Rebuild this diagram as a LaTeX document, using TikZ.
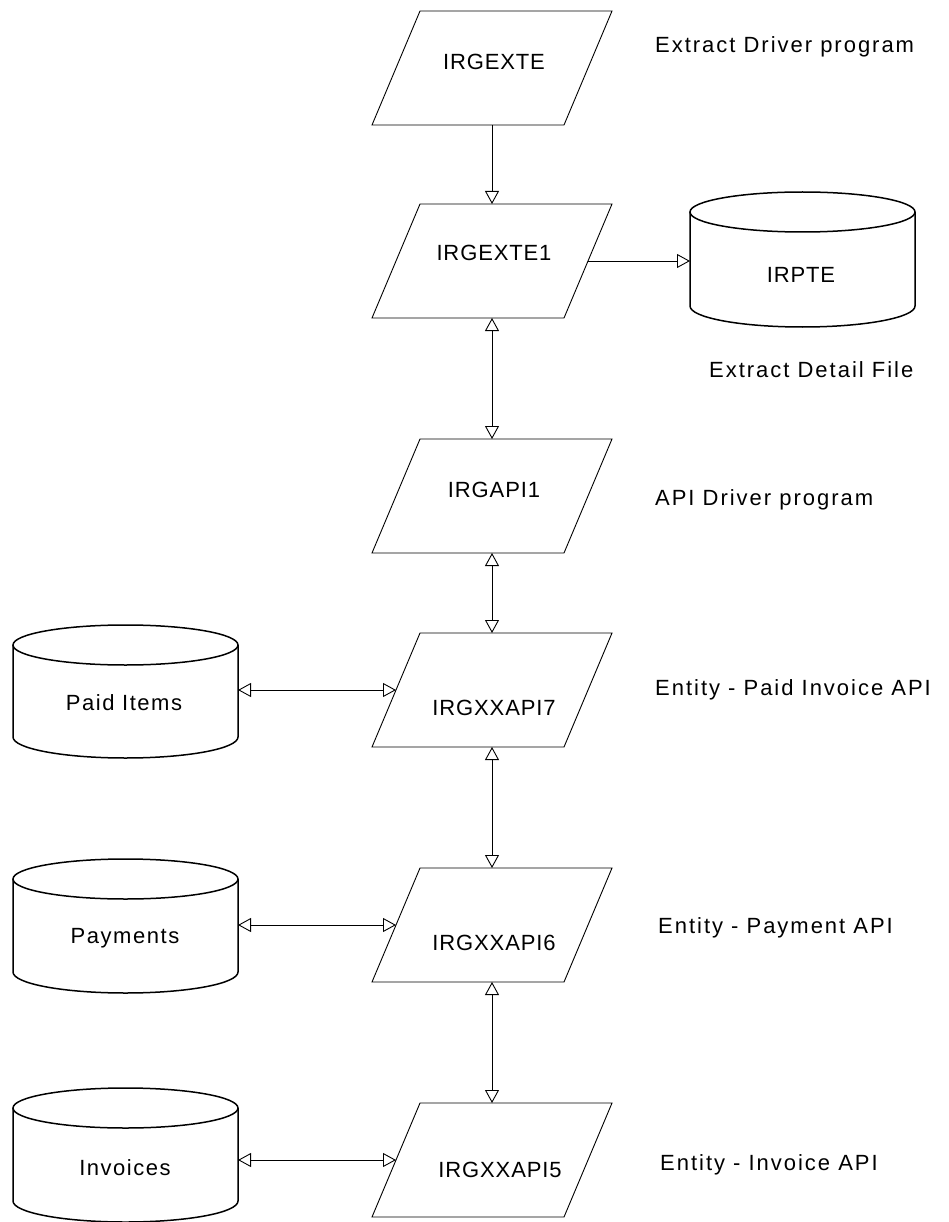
\documentclass[tikz,border=0pt]{standalone}
\usepackage{fontspec}
\setmainfont{Liberation Sans}[LetterSpace=4]
\newfontfamily\notefont{Liberation Sans}[LetterSpace=9]
\newfontfamily\dbfont{Liberation Sans}[LetterSpace=7]
\usetikzlibrary{arrows.meta,calc}
\newcommand\paragram[1]{%
  \draw[outline] (#1.south west) -- ($(#1.south west)+(192,0)$)
    -- coordinate[pos=0.5] (#1-e) (#1.north east)
    -- ($(#1.north east)+(-192,0)$)
    -- coordinate[pos=0.5] (#1-w) (#1.south west) -- cycle;}
\newcommand\dbdraw[1]{%
  \draw[dbline] ($(#1.north)+(0,20)$) ellipse [x radius=112.5, y radius=20];
  \draw[dbline] ($(#1.north west)+(0,20)$) -- ($(#1.south west)+(0,-21)$)
    arc [start angle=180, end angle=0, x radius=112.5, y radius=21]
    -- ($(#1.north east)+(0,20)$);}
\begin{document}
\begin{tikzpicture}[x=1pt,y=-1pt,
  box/.style={minimum width=240pt,minimum height=114pt,inner sep=0pt,outer sep=0pt},
  db/.style={minimum width=225pt,minimum height=134pt,inner sep=0pt,outer sep=0pt},
  lbl/.style={font=\fontsize{22}{26}\selectfont,inner sep=0pt},
  dblbl/.style={font=\fontsize{22}{26}\selectfont\dbfont,inner sep=0pt},
  note/.style={font=\fontsize{22}{26}\selectfont\notefont,inner sep=0pt,anchor=west},
  outline/.style={draw=black,line width=0.9pt,line join=miter},
  dbline/.style={draw=black,line width=1.5pt},
  conn/.style={draw=black,line width=0.9pt},
  tipend/.style={-{Triangle[open,length=13pt,width=14pt,line width=0.9pt]}},
  tipboth/.style={{Triangle[open,length=13pt,width=14pt,line width=0.9pt]}-{Triangle[open,length=13pt,width=14pt,line width=0.9pt]}},
]
\useasboundingbox (0,0) rectangle (949,1222);
\fill[white] (0,0) rectangle (949,1222);

% process boxes (parallelograms)
\node[box] (p0) at (492,68) {};
\node[box] (p1) at (492,261) {};
\node[box] (p2) at (492,496) {};
\node[box] (p7) at (492,690) {};
\node[box] (p6) at (492,925) {};
\node[box] (p5) at (492,1160) {};
\paragram{p0}\paragram{p1}\paragram{p2}\paragram{p7}\paragram{p6}\paragram{p5}
\node[lbl] (t0) at (494,62) {IRGEXTE};
\node[lbl] (t1) at (494,253) {IRGEXTE1};
\node[lbl] (t2) at (494,490) {IRGAPI1};
\node[lbl] (t7) at (494,708) {IRGXXAPI7};
\node[lbl] (t6) at (494,943) {IRGXXAPI6};
\node[lbl] (t5) at (500,1170) {IRGXXAPI5};

% data stores (cylinders)
\node[db,minimum height=135pt] (irpte) at (802.5,259.5) {};
\node[db,minimum height=133pt] (paid) at (125.5,691.5) {};
\node[db] (pay) at (125.5,926) {};
\node[db] (inv) at (125.5,1155) {};
\dbdraw{irpte}\dbdraw{paid}\dbdraw{pay}\dbdraw{inv}
\node[lbl] (tirpte) at (801,275) {IRPTE};
\node[dblbl] (tpaid) at (124,703) {Paid Items};
\node[dblbl] (tpay) at (125,938) {Payments};
\node[dblbl] (tinv) at (125,1168) {Invoices};

% side notes
\node[note] (n0) at (655,47) {Extract Driver program};
\node[note] (n1) at (709,370) {Extract Detail File};
\node[note] (n2) at (655,500) {API Driver program};
\node[note] (n7) at (655,690) {Entity - Paid Invoice API};
\node[note] (n6) at (658,928) {Entity - Payment API};
\node[note] (n5) at (660,1165) {Entity - Invoice API};

% connectors
\draw[conn,tipend] (p0.south) -- (p1.north);
\draw[conn,tipboth] (p1.south) -- (p2.north);
\draw[conn,tipboth] (p2.south) -- (p7.north);
\draw[conn,tipboth] (p7.south) -- (p6.north);
\draw[conn,tipboth] (p6.south) -- (p5.north);
\draw[conn,tipend] (p1-e) -- (irpte.west |- p1-e);
\draw[conn,tipboth] (paid.east |- p7-w) -- (p7-w);
\draw[conn,tipboth] (pay.east |- p6-w) -- (p6-w);
\draw[conn,tipboth] (inv.east |- p5-w) -- (p5-w);
\end{tikzpicture}
\end{document}
